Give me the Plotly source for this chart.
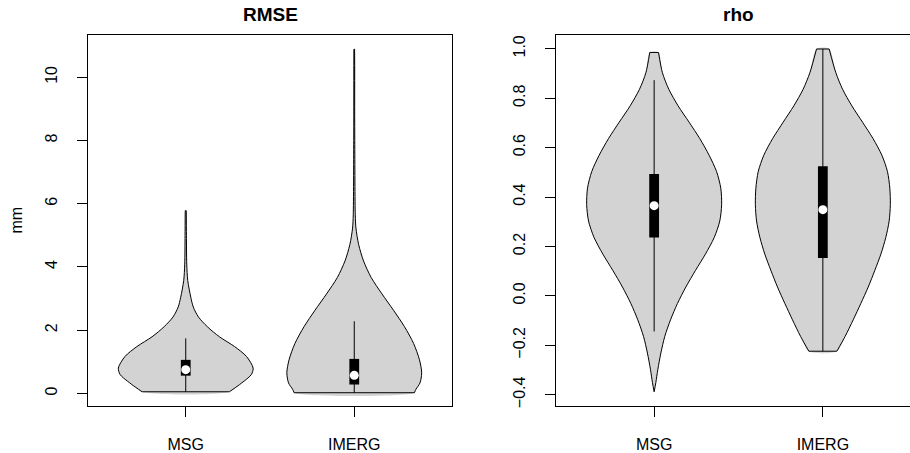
import plotly.graph_objects as go

# ---------------- data ----------------
groups = ["MSG", "IMERG"]
group_pos = [1, 2]

# RMSE violins: value levels and half-widths (x units, max 0.4)
rmse_msg_y = [0.05, 0.28, 0.49, 0.60, 0.80, 1.17, 1.48, 1.79, 2.11, 2.42, 2.73, 3.04, 3.57, 4.09, 5.0, 5.78]
rmse_msg_w = [0.259, 0.32, 0.37, 0.39, 0.40, 0.36, 0.29, 0.20, 0.128, 0.075, 0.045, 0.03, 0.012, 0.006, 0.004, 0.003]
rmse_img_y = [0.02, 0.13, 0.33, 0.65, 1.06, 1.58, 2.11, 2.63, 3.15, 3.67, 4.19, 4.71, 5.23, 5.65, 8.0, 10.89]
rmse_img_w = [0.357, 0.366, 0.39, 0.40, 0.387, 0.352, 0.298, 0.233, 0.164, 0.10, 0.055, 0.026, 0.01, 0.006, 0.003, 0.002]

# rho violins
rho_msg_y = [-0.388, -0.351, -0.297, -0.231, -0.164, -0.097, -0.031, 0.036, 0.103, 0.169, 0.236, 0.303,
             0.369, 0.436, 0.503, 0.569, 0.636, 0.703, 0.769, 0.836, 0.903, 0.985]
rho_msg_w = [0.0, 0.01, 0.022, 0.04, 0.063, 0.097, 0.138, 0.188, 0.245, 0.304, 0.356, 0.389,
             0.40, 0.395, 0.37, 0.326, 0.271, 0.207, 0.142, 0.087, 0.049, 0.026]
rho_img_y = [-0.224, -0.164, -0.097, -0.031, 0.036, 0.103, 0.169, 0.236, 0.303, 0.369, 0.436, 0.503,
             0.569, 0.636, 0.703, 0.769, 0.836, 0.903, 0.999]
rho_img_w = [0.083, 0.132, 0.18, 0.225, 0.269, 0.308, 0.344, 0.373, 0.393, 0.40, 0.397, 0.383,
             0.35, 0.298, 0.235, 0.172, 0.117, 0.077, 0.0375]

# box statistics: [MSG, IMERG]
rmse_q1 = [0.56, 0.28]
rmse_q3 = [1.06, 1.09]
rmse_med = [0.75, 0.57]
rmse_wlo = [0.05, 0.02]
rmse_whi = [1.74, 2.28]

rho_q1 = [0.236, 0.153]
rho_q3 = [0.493, 0.525]
rho_med = [0.365, 0.349]
rho_wlo = [-0.144, -0.224]
rho_whi = [0.873, 0.999]

rmse_ticks = [0, 2, 4, 6, 8, 10]
rho_ticks = [-0.4, -0.2, 0.0, 0.2, 0.4, 0.6, 0.8, 1.0]

# ---------------- figure ----------------
FONT = "Liberation Sans, Arial, Helvetica, sans-serif"
FILL = "#D3D3D3"
BOX_HALF = 0.029
fig = go.Figure()


def add_violin(pos, ys, ws, xa, ya):
    left_x = [pos - w for w in ws]
    right_x = [pos + w for w in ws]
    fig.add_trace(go.Scatter(x=left_x + right_x[::-1] + [left_x[0]],
                             y=ys + ys[::-1] + [ys[0]],
                             mode="lines", fill="toself", fillcolor=FILL,
                             line=dict(width=0, color=FILL, shape="spline", smoothing=0.8),
                             hoverinfo="skip", xaxis=xa, yaxis=ya, showlegend=False))
    for side in (left_x, right_x):
        fig.add_trace(go.Scatter(x=side, y=ys, mode="lines",
                                 line=dict(color="black", width=1, shape="spline", smoothing=0.8),
                                 hoverinfo="skip", xaxis=xa, yaxis=ya, showlegend=False))
    for i in (0, -1):
        fig.add_trace(go.Scatter(x=[left_x[i], right_x[i]], y=[ys[i], ys[i]], mode="lines",
                                 line=dict(color="black", width=1),
                                 hoverinfo="skip", xaxis=xa, yaxis=ya, showlegend=False))


def add_box(q1, q3, med, wlo, whi, xa, ya):
    for p, lo, hi, a, b in zip(group_pos, wlo, whi, q1, q3):
        fig.add_trace(go.Scatter(x=[p, p], y=[lo, hi], mode="lines",
                                 line=dict(color="black", width=1),
                                 hoverinfo="skip", xaxis=xa, yaxis=ya, showlegend=False))
        fig.add_trace(go.Scatter(x=[p - BOX_HALF, p + BOX_HALF, p + BOX_HALF, p - BOX_HALF, p - BOX_HALF],
                                 y=[a, a, b, b, a], mode="lines", fill="toself", fillcolor="black",
                                 line=dict(width=0, color="black"),
                                 hoverinfo="skip", xaxis=xa, yaxis=ya, showlegend=False))
    fig.add_trace(go.Scatter(x=group_pos, y=med, mode="markers",
                             marker=dict(color="white", size=9, line=dict(width=0)),
                             hoverinfo="skip", xaxis=xa, yaxis=ya, showlegend=False))


add_violin(1, rmse_msg_y, rmse_msg_w, "x", "y")
add_violin(2, rmse_img_y, rmse_img_w, "x", "y")
add_box(rmse_q1, rmse_q3, rmse_med, rmse_wlo, rmse_whi, "x", "y")

add_violin(1, rho_msg_y, rho_msg_w, "x2", "y2")
add_violin(2, rho_img_y, rho_img_w, "x2", "y2")
add_box(rho_q1, rho_q3, rho_med, rho_wlo, rho_whi, "x2", "y2")

W, H = 910, 453
ML, MR, MT, MB = 88, 0, 35, 43
PW = W - ML - MR
PH = H - MT - MB


def px_x(px):  # window pixel -> paper fraction
    return (px - ML) / PW


def px_y(py):
    return (H - MB - py) / PH


xcommon = dict(tickvals=group_pos, ticktext=groups, ticks="outside", ticklen=10, tickwidth=1,
               tickcolor="black", showline=True, linecolor="black", linewidth=1,
               showgrid=False, zeroline=False, ticklabelstandoff=14,
               tickfont=dict(family=FONT, size=16, color="black"))
ycommon = dict(ticks="outside", ticklen=10, tickwidth=1, tickcolor="black", showline=True,
               linecolor="black", linewidth=1, showgrid=False, zeroline=False, tickangle=-90,
               ticklabelstandoff=14, tickfont=dict(family=FONT, size=16, color="black"))

fig.update_layout(
    width=W, height=H,
    margin=dict(l=ML, r=MR, t=MT, b=MB, pad=0),
    paper_bgcolor="white", plot_bgcolor="white",
    showlegend=False, hovermode=False,
    font=dict(family=FONT, size=16, color="black"),
    xaxis=dict(domain=[0, px_x(452)], range=[0.42, 2.58], anchor="y", mirror=True, **xcommon),
    yaxis=dict(domain=[0, 1], range=[-0.40, 11.34], anchor="x", mirror=True,
               tickvals=rmse_ticks, ticktext=[str(t) for t in rmse_ticks], **ycommon),
    xaxis2=dict(domain=[px_x(556.3), 1], range=[0.42, 0.42 + (910 - 556.3) / 168.7], anchor="y2",
                mirror=True, **xcommon),
    yaxis2=dict(domain=[0, 1], range=[-0.4456, 1.0556], anchor="x2", mirror=False,
                tickvals=rho_ticks, tickformat=".1f", **ycommon),
    annotations=[
        dict(text="<b>RMSE</b>", x=px_x(270), y=px_y(14.5), xref="paper", yref="paper",
             showarrow=False, xanchor="center", yanchor="middle",
             font=dict(family=FONT, size=19, color="black")),
        dict(text="<b>rho</b>", x=px_x(738.5), y=px_y(14.5), xref="paper", yref="paper",
             showarrow=False, xanchor="center", yanchor="middle",
             font=dict(family=FONT, size=19, color="black")),
        dict(text="mm", x=px_x(16), y=px_y(222.5), xref="paper", yref="paper",
             showarrow=False, xanchor="center", yanchor="middle", textangle=-90,
             font=dict(family=FONT, size=16, color="black")),
    ],
)

# remove the browser's default 8px page margin so the figure fills the window exactly
fig.write_html("out.html", config={"displayModeBar": False, "staticPlot": True},
               post_script="document.body.style.margin='0';document.body.style.overflow='hidden';")
